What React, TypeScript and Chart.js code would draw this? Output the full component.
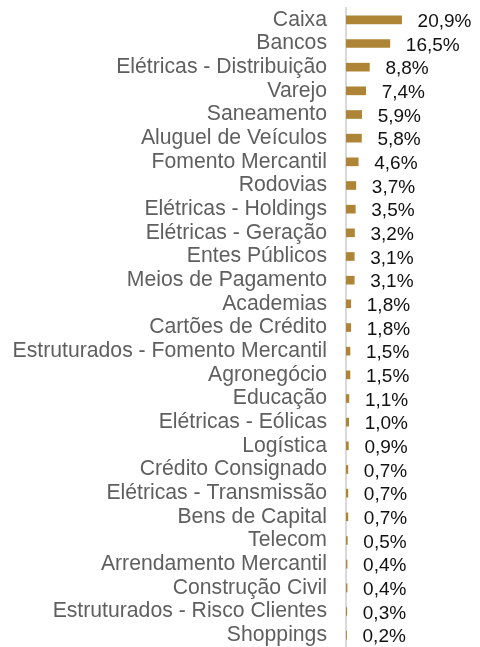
import React, { useEffect, useRef } from "react";
import { Chart, registerables } from "chart.js";

Chart.register(...registerables);

const categories = [
  "Caixa",
  "Bancos",
  "Elétricas - Distribuição",
  "Varejo",
  "Saneamento",
  "Aluguel de Veículos",
  "Fomento Mercantil",
  "Rodovias",
  "Elétricas - Holdings",
  "Elétricas - Geração",
  "Entes Públicos",
  "Meios de Pagamento",
  "Academias",
  "Cartões de Crédito",
  "Estruturados - Fomento Mercantil",
  "Agronegócio",
  "Educação",
  "Elétricas - Eólicas",
  "Logística",
  "Crédito Consignado",
  "Elétricas - Transmissão",
  "Bens de Capital",
  "Telecom",
  "Arrendamento Mercantil",
  "Construção Civil",
  "Estruturados - Risco Clientes",
  "Shoppings",
];

const values = [
  20.9, 16.5, 8.8, 7.4, 5.9, 5.8, 4.6, 3.7, 3.5, 3.2, 3.1, 3.1, 1.8, 1.8, 1.5,
  1.5, 1.1, 1.0, 0.9, 0.7, 0.7, 0.7, 0.5, 0.4, 0.4, 0.3, 0.2,
];

const fmt = (v: number) => v.toFixed(1).replace(".", ",") + "%";

const valueLabels = {
  id: "valueLabels",
  afterDatasetsDraw(chart: any) {
    const ctx = chart.ctx;
    const meta = chart.getDatasetMeta(0);
    ctx.save();
    ctx.font = "19px 'Liberation Sans', Arial, sans-serif";
    ctx.fillStyle = "#111111";
    ctx.textAlign = "left";
    ctx.textBaseline = "middle";
    meta.data.forEach((bar: any, i: number) => {
      ctx.fillText(fmt(values[i]), bar.x + 16, bar.y + 2);
    });
    ctx.restore();
  },
};

export default function App() {
  const ref = useRef<HTMLCanvasElement | null>(null);
  useEffect(() => {
    if (!ref.current) return;
    const chart = new Chart(ref.current, {
      type: "bar",
      data: {
        labels: categories,
        datasets: [
          {
            data: values,
            backgroundColor: "#AE8536",
            barThickness: 8,
          },
        ],
      },
      options: {
        indexAxis: "y",
        animation: false,
        responsive: true,
        maintainAspectRatio: false,
        layout: { padding: { top: 8, bottom: 0, left: 0, right: 0 } },
        plugins: {
          legend: { display: false },
          tooltip: { enabled: false },
        },
        scales: {
          x: {
            display: false,
            min: 0,
            max: 50.4,
          },
          y: {
            grid: { display: false, drawTicks: false },
            border: { display: true, color: "#d9d9d9", width: 2 },
            ticks: {
              color: "#5f5f5f",
              padding: 19,
              font: { family: "'Liberation Sans', Arial, sans-serif", size: 21.2 },
              autoSkip: false,
            },
            afterFit(scale: any) {
              scale.width = 346;
              scale.paddingTop = 0;
              scale.paddingBottom = 0;
            },
          },
        },
      },
      plugins: [valueLabels],
    });
    return () => chart.destroy();
  }, []);

  return (
    <div style={{ position: "fixed", left: 0, top: 0, width: 480, height: 647, background: "#fff" }}>
      <canvas ref={ref} />
    </div>
  );
}
